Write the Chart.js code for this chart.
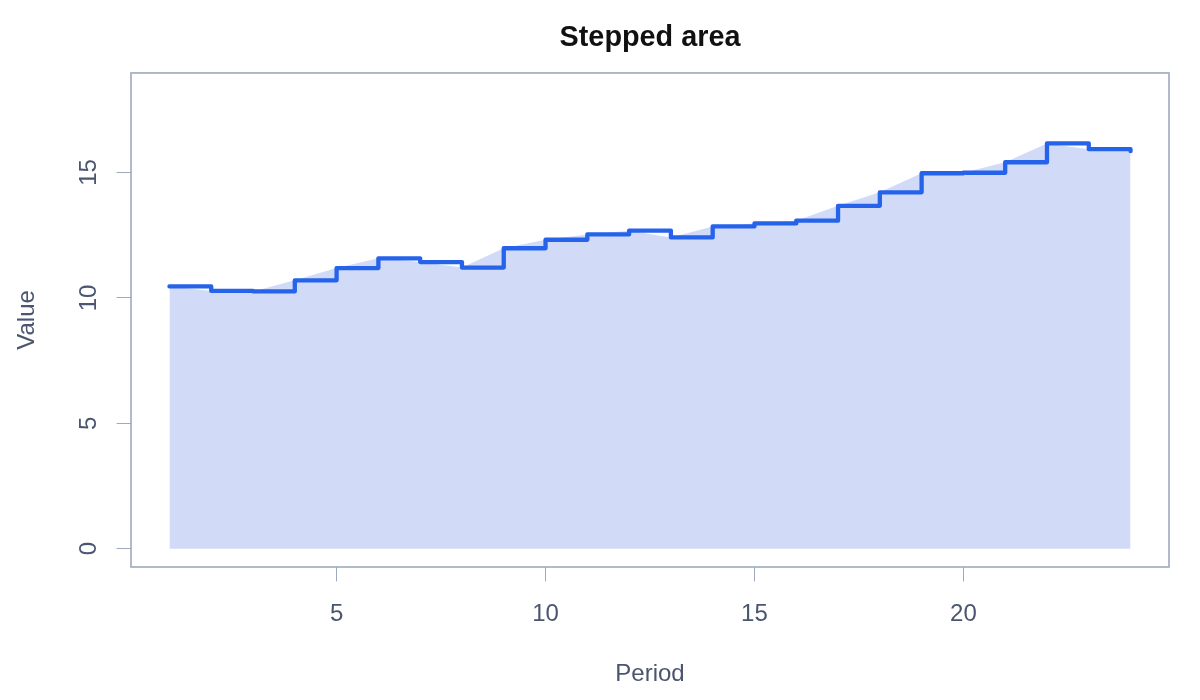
<!DOCTYPE html>
<html>
<head>
<meta charset="utf-8">
<title>Stepped area</title>
<script src="https://cdn.jsdelivr.net/npm/chart.js@4.4.1/dist/chart.umd.min.js"></script>
<style>
  html, body { margin: 0; padding: 0; background: #fff; }
  #wrap { width: 1200px; height: 700px; }
</style>
</head>
<body>
<div id="wrap"><canvas id="chart"></canvas></div>
<script>
// data
const periods = [1, 2, 3, 4, 5, 6, 7, 8, 9, 10, 11, 12, 13, 14, 15, 16, 17, 18, 19, 20, 21, 22, 23, 24];
const values = [10.46, 10.28, 10.26, 10.70, 11.19, 11.58, 11.43, 11.21, 11.98, 12.32, 12.53, 12.68,
                12.41, 12.85, 12.97, 13.08, 13.67, 14.21, 14.97, 14.99, 15.41, 16.16, 15.93, 15.85];
const xTicks = [5, 10, 15, 20];
const yTicks = [0, 5, 10, 15];

const lineColor = '#2563eb';
const fillColor = 'rgba(209, 219, 247, 1)';
const axisColor = '#9ea9bd';
const textColor = '#4a5570';
const fontFamily = '"Liberation Sans", Arial, Helvetica, sans-serif';

const points = periods.map((p, i) => ({ x: p, y: values[i] }));

// frame around the plotting region, like R's box()
const boxPlugin = {
  id: 'box',
  afterDraw(chart) {
    const { ctx, chartArea: a } = chart;
    ctx.save();
    ctx.strokeStyle = axisColor;
    ctx.lineWidth = 1.6;
    ctx.strokeRect(a.left, a.top, a.right - a.left, a.bottom - a.top);
    ctx.restore();
  }
};

Chart.defaults.font.family = fontFamily;
Chart.defaults.color = textColor;

new Chart(document.getElementById('chart'), {
  type: 'line',
  data: {
    datasets: [
      {
        label: 'step',
        data: points,
        stepped: 'before',
        borderColor: lineColor,
        borderWidth: 4.3,
        borderCapStyle: 'round',
        borderJoinStyle: 'round',
        pointRadius: 0,
        fill: false
      },
      {
        label: 'area',
        data: points,
        tension: 0,
        borderWidth: 0,
        pointRadius: 0,
        backgroundColor: fillColor,
        fill: { value: 0 }
      }
    ]
  },
  options: {
    responsive: true,
    maintainAspectRatio: false,
    animation: false,
    layout: { padding: { top: 0, right: 31, bottom: 0, left: 0 } },
    plugins: {
      legend: { display: false },
      tooltip: { enabled: false },
      title: {
        display: true,
        text: 'Stepped area',
        fullSize: false,
        color: '#111111',
        font: { size: 28.8, weight: 'bold', family: fontFamily },
        padding: { top: 20.7, bottom: 17.7 }
      }
    },
    scales: {
      x: {
        type: 'linear',
        min: 0.08,
        max: 24.92,
        afterBuildTicks: s => { s.ticks = xTicks.map(v => ({ value: v })); },
        afterFit: s => { s.height = 133; },
        ticks: { autoSkip: false, maxRotation: 0, font: { size: 24 }, padding: 19, color: textColor },
        grid: { drawOnChartArea: false, drawTicks: true, tickLength: 14.4, color: axisColor, lineWidth: 1 },
        border: { display: false },
        title: { display: true, text: 'Period', color: textColor, font: { size: 24 }, padding: { top: 0, bottom: 11 } }
      },
      y: {
        type: 'linear',
        min: -0.73,
        max: 18.97,
        afterBuildTicks: s => { s.ticks = yTicks.map(v => ({ value: v })); },
        afterFit: s => { s.width = 131; },
        ticks: { autoSkip: false, minRotation: 90, maxRotation: 90, crossAlign: 'center', font: { size: 24 }, padding: 14, color: textColor },
        grid: { drawOnChartArea: false, drawTicks: true, tickLength: 14.4, color: axisColor, lineWidth: 1 },
        border: { display: false },
        title: { display: true, text: 'Value', color: textColor, font: { size: 24 }, padding: { top: 13, bottom: 0 } }
      }
    }
  },
  plugins: [boxPlugin]
});
</script>
</body>
</html>
